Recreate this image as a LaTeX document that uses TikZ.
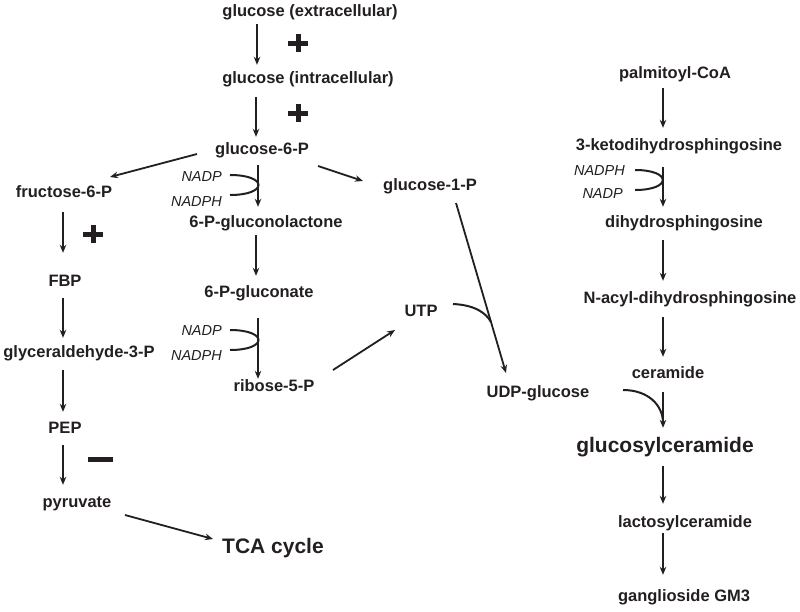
\documentclass[tikz,border=0pt]{standalone}
\usepackage{fontspec}
\setmainfont{Liberation Sans}
\usetikzlibrary{arrows.meta,calc}
\definecolor{ink}{RGB}{35,31,32}
\begin{document}
\begin{tikzpicture}[x=1pt,y=-1pt, color=ink,
  lbl/.style={font=\bfseries\fontsize{16.5}{18}\selectfont, inner sep=0pt, text height=12pt, text depth=4pt},
  big/.style={font=\bfseries\fontsize{21}{24}\selectfont, inner sep=0pt, text height=15pt, text depth=5pt},
  cof/.style={font=\itshape\fontsize{14.5}{16}\selectfont, inner sep=0pt, anchor=east},
  arr/.style={line width=1.8pt, -{Stealth[length=8pt,width=6.5pt]}},
  side/.style={line width=2pt},
  sign/.style={line width=5pt}]
\useasboundingbox (0,0) rectangle (800,611);
% column positions
\coordinate (xa) at (257,0);
\coordinate (xb) at (256,0);
\coordinate (xl) at (63,0);
\coordinate (xm) at (258,0);
\coordinate (xr) at (663,0);
% nodes
\node[lbl] (gext) at (310,12) {glucose (extracellular)};
\node[lbl] (gint) at (308,79) {glucose (intracellular)};
\node[lbl] (g6p) at (262,150) {glucose-6-P};
\node[lbl] (f6p) at (64,193) {fructose-6-P};
\node[lbl] (fbp) at (65,282) {FBP};
\node[lbl] (g3p) at (79,353) {glyceraldehyde-3-P};
\node[lbl] (pep) at (65,429) {PEP};
\node[lbl] (pyr) at (77,503) {pyruvate};
\node[big] (tca) at (273,548) {TCA cycle};
\node[lbl] (lac) at (266,223) {6-P-gluconolactone};
\node[lbl] (glcn) at (259,293) {6-P-gluconate};
\node[lbl] (r5p) at (274,387) {ribose-5-P};
\node[lbl] (g1p) at (430,186) {glucose-1-P};
\node[lbl] (utp) at (421,312) {UTP};
\node[lbl] (udpg) at (538,393) {UDP-glucose};
\node[lbl] (palm) at (675,74) {palmitoyl-CoA};
\node[lbl] (keto) at (679,146) {3-ketodihydrosphingosine};
\node[lbl] (dihy) at (684,223) {dihydrosphingosine};
\node[lbl] (nacyl) at (690,299) {N-acyl-dihydrosphingosine};
\node[lbl] (cer) at (668,374) {ceramide};
\node[big] (glccer) at (665,447) {glucosylceramide};
\node[lbl] (lacc) at (685,523) {lactosylceramide};
\node[lbl] (gm3) at (684,597) {ganglioside GM3};
% cofactors
\node[cof] (n1) at (222,177) {NADP};
\node[cof] (n2) at (222,202) {NADPH};
\node[cof] (n3) at (222,331) {NADP};
\node[cof] (n4) at (222,356) {NADPH};
\node[cof] (n5) at (625,171) {NADPH};
\node[cof] (n6) at (623,194) {NADP};
% vertical arrows
\draw[arr, shorten <=4pt, shorten >=6pt] (gext.south -| xa) -- (gint.north -| xa);
\draw[arr, shorten <=10pt, shorten >=5pt] (gint.south -| xb) -- (g6p.north -| xb);
\draw[arr, shorten <=11pt, shorten >=21pt] (f6p.south -| xl) -- (fbp.north -| xl);
\draw[arr, shorten <=8pt, shorten >=7pt] (fbp.south -| xl) -- (g3p.north -| xl);
\draw[arr, shorten <=9pt, shorten >=9pt] (g3p.south -| xl) -- (pep.north -| xl);
\draw[arr, shorten <=8pt, shorten >=10pt] (pep.south -| xl) -- (pyr.north -| xl);
\draw[arr, shorten <=7pt, shorten >=8pt] (g6p.south -| xm) -- (lac.north -| xm);
\draw[arr, shorten <=4pt, shorten >=9pt] (lac.south -| xb) -- (glcn.north -| xb);
\draw[arr, shorten <=17pt, shorten >=0pt] (glcn.south -| xm) -- (r5p.north -| xm);
\draw[arr, shorten <=6pt, shorten >=10pt] (palm.south -| xr) -- (keto.north -| xr);
\draw[arr, shorten <=13pt, shorten >=8pt] (keto.south -| xr) -- (dihy.north -| xr);
\draw[arr, shorten <=9pt, shorten >=10pt] (dihy.south -| xr) -- (nacyl.north -| xr);
\draw[arr, shorten <=10pt, shorten >=9pt] (nacyl.south -| xr) -- (cer.north -| xr);
\draw[arr, shorten <=10pt, shorten >=9pt] (cer.south -| xr) -- (glccer.north -| xr);
\draw[arr, shorten <=9pt, shorten >=11pt] (glccer.south -| xr) -- (lacc.north -| xr);
\draw[arr, shorten <=2pt, shorten >=14pt] (lacc.south -| xr) -- (gm3.north -| xr);
% diagonal arrows
\draw[arr] ($(g6p)+(-65,4)$) -- ($(f6p)+(46,-16)$);
\draw[arr] ($(g6p)+(56,16)$) -- ($(g1p)+(-67,-5)$);
\draw[arr] ($(r5p)+(59,-17)$) -- ($(utp)+(-26,18)$);
\draw[arr] ($(g1p)+(26,17)$) -- ($(udpg)+(-32,-20)$);
\draw[arr] ($(pyr)+(48,12)$) -- ($(tca)+(-60,-9)$);
% side reactions
\draw[side] ($(n1.east)+(8,-2)$) .. controls (268,175) and (268,195) .. ($(n2.east)+(8,-7)$);
\draw[side] ($(n3.east)+(8,-1)$) .. controls (268,330) and (268,350) .. ($(n4.east)+(8,-6)$);
\draw[side] ($(n5.east)+(10,-1)$) .. controls (672,170) and (672,190) .. ($(n6.east)+(12,-4)$);
\draw[side] ($(utp)+(32,-8)$) .. controls (475,305) and (486,313) .. (491,322);
\draw[side] ($(udpg)+(85,-3)$) .. controls (648,390) and (663,405) .. (663,423);
% regulation signs
\draw[sign] (288,43) -- (308,43) (298,34) -- (298,52);
\draw[sign] (288,113) -- (308,113) (298,104) -- (298,122);
\draw[sign] (83,234) -- (103,234) (93,225) -- (93,243);
\draw[sign] (88,459) -- (113,459);
\end{tikzpicture}
\end{document}
